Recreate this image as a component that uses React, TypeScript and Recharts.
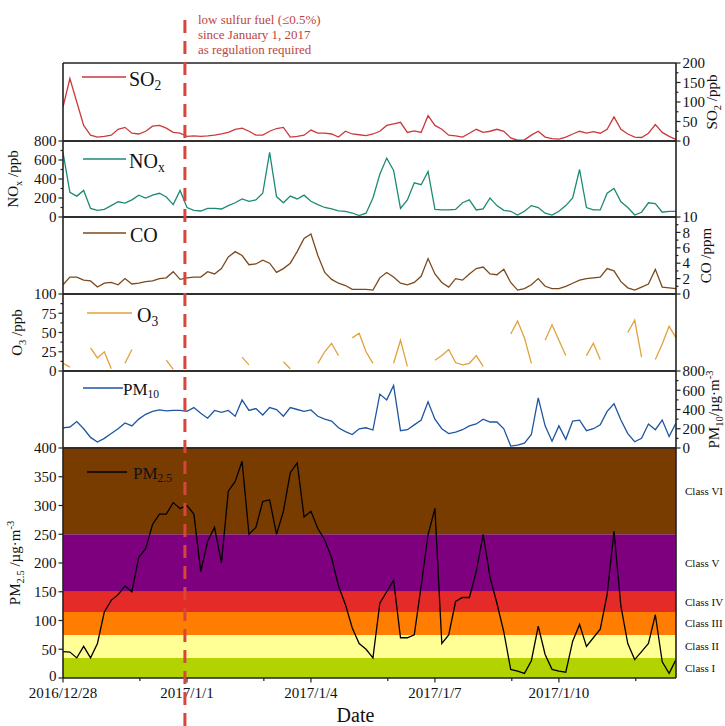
import React from 'react';
import { LineChart, Line, XAxis, YAxis, ReferenceArea, ReferenceLine, Legend } from 'recharts';

// ---------------- data (4-hour samples, x in days from the first tick) ----------------
const STEP_DAYS = 1 / 6;

const so2Ppb = [
  87, 160, 100, 40, 15, 10, 12, 15, 30, 35,
  20, 18, 25, 38, 40, 33, 22, 20, 12, 13,
  12, 13, 15, 18, 22, 30, 33, 25, 15, 15,
  25, 32, 35, 10, 12, 15, 28, 20, 20, 18,
  10, 25, 18, 16, 14, 18, 25, 40, 44, 48,
  22, 26, 22, 65, 40, 30, 15, 13, 10, 20,
  30, 22, 25, 30, 25, 8, 2, 3, 15, 25,
  10, 6, 5, 10, 18, 25, 20, 24, 20, 30,
  62, 30, 18, 10, 9, 20, 42, 22, 12, 4,
];

const noxPpb = [
  680, 260, 220, 280, 90, 70, 80, 120, 160, 147,
  180, 230, 200, 230, 250, 210, 130, 280, 100, 70,
  63, 90, 90, 84, 120, 150, 190, 165, 180, 250,
  680, 215, 150, 220, 190, 230, 165, 130, 100, 85,
  65, 60, 42, 15, 40, 200, 450, 620, 490, 90,
  180, 360, 340, 480, 80, 74, 74, 80, 150, 180,
  74, 85, 200, 120, 70, 60, 20, 60, 120, 100,
  40, 21, 60, 120, 200, 500, 100, 74, 74, 250,
  300, 160, 100, 21, 50, 150, 140, 50, 60, 60,
];

const coPpm = [
  1.2, 2.2, 2.2, 1.8, 1.7, 0.9, 1.4, 1.5, 1.2, 2.0,
  1.3, 1.4, 1.6, 1.7, 2.0, 2.1, 2.9, 1.9, 2.1, 2.2,
  2.2, 2.9, 2.6, 3.3, 4.8, 5.5, 5.0, 3.8, 3.9, 4.4,
  4.0, 2.8, 3.3, 4.0, 5.5, 7.2, 7.8, 5.0, 2.8, 1.9,
  1.4, 1.1, 0.6, 0.6, 0.6, 0.5, 2.1, 2.8, 2.2, 1.4,
  1.2, 1.5, 2.3, 4.6, 2.6, 1.5, 0.9, 2.0, 1.8, 2.6,
  3.3, 3.5, 2.6, 2.5, 3.2, 1.5, 0.5, 0.7, 1.2, 2.0,
  1.0, 0.7, 0.7, 1.0, 1.4, 1.8, 2.0, 2.1, 2.2, 3.3,
  3.0, 1.6, 0.8, 0.5, 0.9, 1.3, 3.2, 0.9, 0.8, 0.7,
];

const o3Ppb: (number | null)[] = [
  10, 5, null, null, 30, 17, 25, 3, null, 10,
  28, null, null, null, null, 14, 2, null, null, null,
  null, null, null, null, null, null, 18, 8, null, null,
  null, null, 12, 3, null, null, null, 10, 25, 36,
  20, null, 43, 49, 25, 10, null, null, 10, 40,
  6, null, null, null, 14, 20, 28, 11, 8, 10,
  20, 6, null, null, null, 48, 65, 43, 10, null,
  40, 60, 40, 20, null, null, 20, 36, 15, null,
  null, null, 50, 66, 18, null, 15, 35, 58, 43,
];

const pm10 = [
  208, 218, 275, 200, 110, 62, 100, 150, 200, 260,
  230, 300, 350, 380, 395, 385, 390, 390, 380, 420,
  360, 310, 390, 370, 390, 330, 500, 390, 410, 343,
  420, 400, 330, 420, 400, 380, 395, 330, 300, 280,
  210, 170, 140, 200, 210, 187, 560, 500, 650, 180,
  190, 240, 290, 480, 300, 200, 150, 165, 190, 230,
  250, 300, 270, 270, 200, 20, 30, 50, 140, 520,
  230, 70, 230, 90, 280, 290, 180, 200, 240, 380,
  460, 290, 150, 65, 100, 250, 190, 290, 120, 260,
];

const pm25 = [
  46, 45, 35, 55, 35, 60, 115, 135, 145, 160,
  150, 210, 225, 267, 285, 285, 305, 295, 300, 285,
  185, 238, 262, 200, 325, 342, 377, 250, 262, 307,
  310, 250, 290, 357, 374, 280, 290, 260, 240, 209,
  160, 128, 87, 60, 50, 35, 130, 150, 170, 70,
  70, 75, 160, 249, 295, 60, 75, 133, 140, 140,
  185, 250, 175, 130, 80, 15, 12, 8, 30, 90,
  41, 15, 12, 10, 64, 93, 55, 70, 85, 145,
  255, 125, 60, 32, 46, 60, 110, 28, 8, 32,
];

const dateTickDays = [0, 3, 6, 9, 12];
const dateTickLabels = ['2016/12/28', '2017/1/1', '2017/1/4', '2017/1/7', '2017/1/10'];
const minorDateTicks = [1.86, 4.86, 7.86, 10.86, 13.86];
const regulationDay = 2.95;
const annotationLines = ['low sulfur fuel (\u22640.5%)', 'since January 1, 2017', 'as regulation required'];

const classNames = ['Class I', 'Class II', 'Class III', 'Class IV', 'Class V', 'Class VI'];
const classLimits = [0, 35, 75, 115, 150, 250, 400];
const classColors = ['#b2d300', '#ffff96', '#ff7d00', '#e52b27', '#7f007f', '#793c00'];

// ---------------- layout / style ----------------
const W = 725;
const H = 726;
const PL = 63;
const PR = 49;
const FONT = "'Liberation Serif', 'Times New Roman', 'DejaVu Serif', serif";
const AX = '#222';
const TXT = '#111';
const AXLINE = { stroke: AX, strokeWidth: 1.6 };

const rows = so2Ppb.map((v, i) => ({
  t: i * STEP_DAYS,
  so2: v,
  nox: noxPpb[i],
  co: coPpm[i],
  o3: o3Ppb[i],
  pm10: pm10[i],
  pm25: pm25[i],
}));
const T_MAX = (so2Ppb.length - 1) * STEP_DAYS;

const seq = (a: number, b: number, s: number) => {
  const out: number[] = [];
  for (let v = a; v <= b + 1e-9; v += s) out.push(Math.round(v * 1000) / 1000);
  return out;
};

type Part = [string, 'n' | 'sub' | 'sup'];

const renderParts = (parts: Part[], base: number) => {
  let shift = 0;
  return parts.map(([t, k], i) => {
    const target = k === 'sub' ? base * 0.28 : k === 'sup' ? -base * 0.38 : 0;
    const dy = target - shift;
    shift = target;
    return (
      <tspan key={i} dy={dy} fontSize={k === 'n' ? base : base * 0.7}>
        {t}
      </tspan>
    );
  });
};

const yTick = (side: 'left' | 'right', major: number, zeroLift = 0) => (p: any) => {
  const v = Number(p.payload.value);
  const isMajor = Math.abs(v / major - Math.round(v / major)) < 1e-6;
  const s = side === 'left' ? -1 : 1;
  const lift = v === 0 ? zeroLift : 0;
  return (
    <g>
      <line x1={p.x} x2={p.x + s * (isMajor ? 4.5 : 2.5)} y1={p.y} y2={p.y} stroke={AX} strokeWidth={1.2} />
      {isMajor && (
        <text
          x={p.x + s * 6.5}
          y={p.y - lift}
          dy="0.35em"
          textAnchor={side === 'left' ? 'end' : 'start'}
          fontSize={15}
          fontFamily={FONT}
          fill={TXT}
        >
          {v}
        </text>
      )}
    </g>
  );
};

const classTick = (p: any) => {
  const v = Number(p.payload.value);
  const idx = classNames.findIndex((_, i) => Math.abs((classLimits[i] + classLimits[i + 1]) / 2 - v) < 1e-6);
  return (
    <text x={p.x + 9} y={p.y} dy="0.35em" fontSize={11} fontFamily={FONT} fill={TXT}>
      {idx >= 0 ? classNames[idx] : ''}
    </text>
  );
};

const xTick = (p: any) => {
  const v = Number(p.payload.value);
  const idx = dateTickDays.findIndex((d) => Math.abs(d - v) < 1e-6);
  const major = idx >= 0;
  return (
    <g>
      <line x1={p.x} x2={p.x} y1={p.y} y2={p.y + (major ? 4.5 : 3)} stroke={AX} strokeWidth={1.2} />
      {major && (
        <text x={p.x} y={p.y + 9.5} dy="0.71em" textAnchor="middle" fontSize={15} fontFamily={FONT} fill={TXT}>
          {dateTickLabels[idx]}
        </text>
      )}
    </g>
  );
};

const axisTitle = (side: 'left' | 'right', dist: number, parts: Part[]) => (p: any) => {
  const vb = p.viewBox || { x: 0, y: 0, width: 0, height: 0 };
  const edge = side === 'left' ? vb.x + (vb.width || 0) : vb.x;
  const cx = side === 'left' ? edge - dist : edge + dist;
  const cy = vb.y + vb.height / 2;
  return (
    <text
      x={cx}
      y={cy}
      dy="0.35em"
      transform={`rotate(-90 ${cx} ${cy})`}
      textAnchor="middle"
      fontFamily={FONT}
      fill={TXT}
      fontSize={15}
    >
      {renderParts(parts, 15)}
    </text>
  );
};

const dateTitle = (p: any) => {
  const vb = p.viewBox || { x: 0, y: 0, width: 0, height: 0 };
  return (
    <text x={vb.x + vb.width / 2 - 14} y={vb.y + 44} textAnchor="middle" fontSize={20} fontFamily={FONT} fill={TXT}>
      Date
    </text>
  );
};

type LegendSpec = { x: number; y: number; w: number; gap: number; size: number; parts: Part[] };

const legendContent = (color: string, spec: LegendSpec) => () => (
  <div
    style={{
      display: 'flex',
      alignItems: 'center',
      height: 22,
      fontFamily: FONT,
      fontSize: spec.size,
      color: TXT,
      whiteSpace: 'nowrap',
    }}
  >
    <svg width={spec.w} height={4} style={{ display: 'block' }}>
      <line x1={0} x2={spec.w} y1={2} y2={2} stroke={color} strokeWidth={1.6} />
    </svg>
    <span style={{ marginLeft: spec.gap, lineHeight: '22px', position: 'relative', top: 2 }}>
      {spec.parts.map(([t, k], i) =>
        k === 'n' ? (
          <span key={i}>{t}</span>
        ) : (
          <span key={i} style={{ fontSize: '0.68em', verticalAlign: k === 'sub' ? '-0.3em' : '0.6em', lineHeight: 0 }}>
            {t}
          </span>
        )
      )}
    </span>
  </div>
);

type AxisSide = {
  ticks?: number[];
  major?: number;
  title?: Part[];
  dist?: number;
  zeroLift?: number;
  renderer?: (p: any) => any;
};

type PanelProps = {
  top: number;
  h: number;
  padTop?: number;
  padBottom?: number;
  dataKey: string;
  color: string;
  domain: [number, number];
  left?: AxisSide;
  right?: AxisSide;
  legend: LegendSpec;
  bands?: boolean;
  dateAxis?: boolean;
};

function Panel({ top, h, padTop = 20, padBottom = 20, dataKey, color, domain, left = {}, right = {}, legend, bands, dateAxis }: PanelProps) {
  const height = h + padTop + padBottom;
  const chartTop = top - padTop;
  const xTicks = [...dateTickDays, ...minorDateTicks].sort((a, b) => a - b);
  return (
    <div style={{ position: 'absolute', left: 0, top: chartTop, width: W, height }}>
      <LineChart
        width={W}
        height={height}
        data={rows}
        margin={{ top: padTop - 1, right: PR - 1, bottom: padBottom - 1, left: PL - 1 }}
      >
        {bands &&
          classNames.map((n, i) => (
            <ReferenceArea
              key={n}
              yAxisId="L"
              y1={classLimits[i]}
              y2={classLimits[i + 1]}
              fill={classColors[i]}
              fillOpacity={1}
              stroke="none"
            />
          ))}
        <XAxis
          xAxisId="top"
          orientation="top"
          dataKey="t"
          type="number"
          domain={[0, T_MAX]}
          allowDataOverflow
          height={1}
          axisLine={AXLINE}
          tick={false}
          tickLine={false}
        />
        <XAxis
          dataKey="t"
          type="number"
          domain={[0, T_MAX]}
          allowDataOverflow
          height={1}
          axisLine={AXLINE}
          ticks={dateAxis ? xTicks : undefined}
          tick={dateAxis ? xTick : false}
          tickLine={false}
          tickSize={0}
          tickMargin={0}
          interval={0}
          label={dateAxis ? dateTitle : undefined}
        />
        <YAxis
          yAxisId="L"
          type="number"
          domain={domain}
          allowDataOverflow
          width={1}
          axisLine={AXLINE}
          ticks={left.ticks}
          tick={left.ticks ? left.renderer || yTick('left', left.major || 1, left.zeroLift || 0) : false}
          tickLine={false}
          tickSize={0}
          tickMargin={0}
          interval={0}
          label={left.title ? axisTitle('left', left.dist || 42, left.title) : undefined}
        />
        <YAxis
          yAxisId="R"
          orientation="right"
          type="number"
          domain={domain}
          allowDataOverflow
          width={1}
          axisLine={AXLINE}
          ticks={right.ticks}
          tick={right.ticks ? right.renderer || yTick('right', right.major || 1, right.zeroLift || 0) : false}
          tickLine={false}
          tickSize={0}
          tickMargin={0}
          interval={0}
          label={right.title ? axisTitle('right', right.dist || 42, right.title) : undefined}
        />
        <Line
          yAxisId="L"
          type="linear"
          dataKey={dataKey}
          stroke={color}
          strokeWidth={1.3}
          dot={false}
          connectNulls={false}
          isAnimationActive={false}
        />
        <Legend
          layout="horizontal"
          verticalAlign="middle"
          align="center"
          content={legendContent(color, legend)}
          wrapperStyle={{ left: legend.x, top: legend.y - chartTop - 11, width: 'auto', height: 'auto' }}
        />
      </LineChart>
    </div>
  );
}

const annotation = (p: any) => {
  const vb = p.viewBox || { x: 0, y: 0 };
  return (
    <text x={vb.x + 13} y={vb.y + 12} fontSize={13} fontFamily={FONT} fill="#c0443d">
      {annotationLines.map((l, i) => (
        <tspan key={i} x={vb.x + 13} dy={i === 0 ? 0 : 15}>
          {l}
        </tspan>
      ))}
    </text>
  );
};

export default function App() {
  return (
    <div style={{ position: 'absolute', left: 0, top: 0, width: W, height: H, background: '#fff', overflow: 'hidden' }}>
      <Panel
        top={63}
        h={78}
        dataKey="so2"
        color="#c93a3c"
        domain={[0, 200]}
        right={{ ticks: seq(0, 200, 25), major: 50, title: [['SO', 'n'], ['2', 'sub'], [' /ppb', 'n']], dist: 41 }}
        legend={{ x: 82, y: 77, w: 44, gap: 3, size: 20, parts: [['SO', 'n'], ['2', 'sub']] }}
      />
      <Panel
        top={141}
        h={76}
        dataKey="nox"
        color="#1d8a74"
        domain={[0, 800]}
        left={{ ticks: seq(0, 800, 100), major: 200, title: [['NO', 'n'], ['x', 'sub'], [' /ppb', 'n']], dist: 45 }}
        legend={{ x: 83, y: 159, w: 43, gap: 3, size: 20, parts: [['NO', 'n'], ['x', 'sub']] }}
      />
      <Panel
        top={217}
        h={77}
        dataKey="co"
        color="#7a4a1c"
        domain={[0, 10]}
        right={{ ticks: seq(0, 10, 1), major: 2, title: [['CO /ppm', 'n']], dist: 35 }}
        legend={{ x: 83, y: 233, w: 43, gap: 4, size: 20, parts: [['CO', 'n']] }}
      />
      <Panel
        top={294}
        h={77}
        dataKey="o3"
        color="#e2a13a"
        domain={[0, 100]}
        left={{ ticks: seq(0, 100, 12.5), major: 25, title: [['O', 'n'], ['3', 'sub'], [' /ppb', 'n']], dist: 41 }}
        legend={{ x: 87, y: 313, w: 45, gap: 5, size: 20, parts: [['O', 'n'], ['3', 'sub']] }}
      />
      <Panel
        top={371}
        h={77}
        dataKey="pm10"
        color="#1e56a3"
        domain={[0, 800]}
        right={{
          ticks: seq(0, 800, 100),
          major: 200,
          title: [['PM', 'n'], ['10', 'sub'], ['/\u00b5g\u00b7m', 'n'], ['-3', 'sup']],
          dist: 43,
        }}
        legend={{ x: 83, y: 388, w: 40, gap: 0, size: 17, parts: [['PM', 'n'], ['10', 'sub']] }}
      />
      <Panel
        top={448}
        h={230}
        padBottom={48}
        dataKey="pm25"
        color="#000000"
        domain={[0, 400]}
        bands
        dateAxis
        left={{
          ticks: seq(0, 400, 50),
          major: 50,
          zeroLift: 2,
          title: [['PM', 'n'], ['2.5', 'sub'], [' /\u00b5g\u00b7m', 'n'], ['-3', 'sup']],
          dist: 43,
        }}
        right={{
          ticks: classNames.map((_, i) => (classLimits[i] + classLimits[i + 1]) / 2),
          renderer: classTick,
        }}
        legend={{ x: 87, y: 472, w: 40, gap: 6, size: 17, parts: [['PM', 'n'], ['2.5', 'sub']] }}
      />
      <div style={{ position: 'absolute', left: 0, top: 0, width: W, height: H, pointerEvents: 'none' }}>
        <LineChart width={W} height={H} data={rows} margin={{ top: 12, right: PR, bottom: 0, left: PL }}>
          <XAxis dataKey="t" type="number" domain={[0, T_MAX]} allowDataOverflow hide height={0} />
          <YAxis type="number" domain={[0, 1]} allowDataOverflow hide width={0} />
          <ReferenceLine
            x={regulationDay}
            stroke="#d9453b"
            strokeWidth={3}
            strokeDasharray="13 8"
            label={annotation}
            ifOverflow="visible"
          />
        </LineChart>
      </div>
    </div>
  );
}
